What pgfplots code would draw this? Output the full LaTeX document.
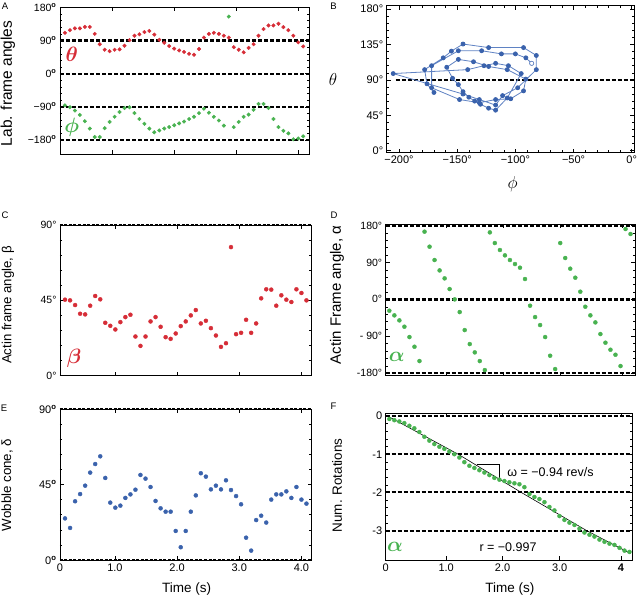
\documentclass[border=0pt]{standalone}
\usepackage{fontspec}
\setmainfont{Liberation Sans}
\usepackage{pgfplots}
\usepackage{pgfplotstable}
\pgfplotsset{compat=1.18}
\definecolor{myred}{RGB}{214,45,55}
\definecolor{mygreen}{RGB}{72,178,80}
\definecolor{myblue}{RGB}{58,98,172}
\definecolor{mybluel}{RGB}{95,130,195}
\newcommand{\dg}{\textsuperscript{\textbf{o}}}
\newcommand{\fs}[1]{\fontsize{#1}{#1}\selectfont}
\pgfplotstableread{
i t theta phiA phiB beta alpha rot delta
1 0.083 111 -86 -86 45.4 -27.6 -0.077 24.8
2 0.167 118 -91 -91 45.0 -39.0 -0.108 19.1
3 0.250 123 -100 -100 42.2 -51.2 -0.142 35.0
4 0.333 123 -112 -112 37.0 -66.6 -0.185 39.3
5 0.417 127 -129 -129 36.6 -91.8 -0.255 44.3
6 0.500 127 -149 -149 41.8 -115.4 -0.321 52.1
7 0.583 108 -172 -172 47.6 -150.3 -0.418 57.2
8 0.667 80 -172 -172 45.6 165.0 -0.542 61.8
9 0.750 65 -148 -148 31.6 128.4 -0.643 48.9
10 0.833 61 -131 -131 29.8 95.9 -0.734 34.2
11 0.917 65 -117 -117 27.6 70.6 -0.804 31.2
12 1.000 66 -104 -104 32.0 51.2 -0.858 32.4
13 1.083 76 -93 -93 35.0 25.2 -0.930 37.0
14 1.167 91 -91 -91 36.4 0.0 -1.000 39.1
15 1.250 103 -107 -107 23.4 -30.9 -1.086 41.9
16 1.333 107 -123 -123 17.8 -74.8 -1.208 50.7
17 1.417 113 -136 -136 23.4 -108.9 -1.302 48.5
18 1.500 116 -149 -149 32.4 -129.2 -1.359 43.5
19 1.583 106 -159 -159 35.0 -150.3 -1.418 35.2
20 1.667 92 -154 -154 29.2 -172.3 -1.479 30.8
21 1.750 84 -149 -149 23.0 163.3 -1.546 28.8
22 1.833 75 -145 -145 22.0 137.3 -1.619 28.8
23 1.917 68 -140 -140 25.2 120.3 -1.666 17.3
24 2.000 63 -135 -135 29.6 107.3 -1.702 7.6
25 2.083 59 -130 -130 32.4 95.9 -1.734 17.3
26 2.167 54 -123 -123 36.0 86.1 -1.761 28.8
27 2.250 51.5 -117 -117 39.2 77.2 -1.786 38.5
28 2.333 67 -107 -107 31.2 49.6 -1.862 51.7
29 2.417 98 -95 -95 32.8 -15.4 -2.043 49.7
30 2.500 108 -106 -106 28.4 -43.1 -2.120 42.1
31 2.583 111 -117 -117 24.0 -62.6 -2.174 44.3
32 2.667 108 -127 -127 17.2 -91.8 -2.255 42.1
33 2.750 103 -141 -141 19.4 -137.3 -2.381 47.5
34 2.833 98 155 -205 76.8 -169.8 -2.472 41.7
35 2.917 72 -145 -145 24.8 137.3 -2.619 38.1
36 3.000 65 -131 -131 25.6 100.8 -2.720 33.2
37 3.083 58 -117 -117 33.4 74.8 -2.792 13.3
38 3.167 70 -111 -111 25.6 52.8 -2.853 5.6
39 3.250 80 -98 -98 31.2 18.7 -2.948 23.8
40 3.333 103 -82 -82 46.2 -17.9 -3.050 26.4
41 3.417 121 -82 -82 51.6 -39.0 -3.108 22.3
42 3.500 131 -93 -93 51.4 -56.1 -3.156 36.0
43 3.583 131 -123 -123 41.8 -84.5 -3.235 39.1
44 3.667 135.5 -145 -145 48.0 -105.6 -3.293 39.1
45 3.750 126.5 -155 -155 45.4 -122.7 -3.341 40.9
46 3.833 118 -162 -162 44.0 -134.9 -3.375 37.0
47 3.917 103 -178 -178 51.6 -162.5 -3.451 43.5
48 4.000 85 -176 -176 49.4 171.5 -3.524 36.0
49 4.083 74 -170 -170 45.0 159.3 -3.558 33.6
}\data
\pgfplotsset{
  panel/.style={scale only axis, anchor=north west, clip=false,
    axis line style={line width=0.8pt},
    tick pos=both, tick align=inside,
    every tick/.style={black, line width=0.5pt},
    major tick length=4pt, minor tick length=2.2pt,
    tick label style={font=\fs{10.5}},
    /pgf/number format/assume math mode=true},
  dline/.style={black, line width=2.3pt, dash pattern=on 4pt off 2pt, forget plot},
}
\begin{document}
\begin{tikzpicture}
\useasboundingbox (0pt,0pt) rectangle (638pt,-599pt);
% panel letters
\node[font=\fs{9.5}] at (5pt,-6.7pt) {A};
\node[font=\fs{9.5}] at (333.5pt,-6.7pt) {B};
\node[font=\fs{9.5}] at (5pt,-215pt) {C};
\node[font=\fs{9.5}] at (334pt,-215pt) {D};
\node[font=\fs{9.5}] at (4pt,-408.3pt) {E};
\node[font=\fs{9.5}] at (333.5pt,-406.7pt) {F};

% ---------- A ----------
\begin{axis}[panel, at={(60pt,-7pt)}, width=249pt, height=147pt,
  xmin=0, xmax=4.18, ymin=-218, ymax=181,
  xtick={0,0.88,1.92,2.96,4.0}, xticklabels={}, minor x tick num=4,
  ytick={-180,-90,0,90,180}, minor y tick num=4,
  yticklabels={−180\dg,−90\dg,0\dg,90\dg,180\dg},
  ylabel={Lab. frame angles},
  ylabel style={at={(axis description cs:-0.209,0.48)}, anchor=center, font=\fs{15.5}}]
\addplot[dline] coordinates {(0,90) (4.18,90)};
\addplot[dline] coordinates {(0,0) (4.18,0)};
\addplot[dline] coordinates {(0,-90) (4.18,-90)};
\addplot[dline] coordinates {(0,-180) (4.18,-180)};
\addplot[only marks, mark=*, mark size=1.8pt, myred] table[x=t,y=theta] {\data};
\addplot[only marks, mark=*, mark size=1.8pt, mygreen] table[x=t,y=phiA] {\data};
\node[myred, font={\fs{20}\boldmath}] at (0.196,51.4) {$\theta$};
\node[mygreen, font={\fs{20}\boldmath}] at (0.196,-145) {$\phi$};
\end{axis}

% ---------- B ----------
\begin{axis}[panel, at={(386.7pt,-5.7pt)}, width=247.6pt, height=147pt,
  xmin=-210.6, xmax=2.2, ymin=-2.5, ymax=184.2,
  xtick={-200,-150,-100,-50,0}, minor x tick num=4,
  xticklabels={−200°,−150°,−100°,−50°,0°},
  ytick={0,45,90,135,180}, minor y tick num=4,
  yticklabels={0°,45°,90°,135°,180°},
  tick label style={font=\fs{11}},
  xlabel={$\phi$}, ylabel={$\theta$},
  xlabel style={at={(axis description cs:0.509,-0.213)}, anchor=center, font=\fs{16}},
  ylabel style={at={(axis description cs:-0.217,0.495)}, anchor=center, rotate=-90, font=\fs{16}}]
\addplot[dline] coordinates {(-203,90) (2.2,90)};
\addplot[mybluel, line width=0.8pt, mark=*, mark size=2pt, mark options={myblue, fill=myblue}] table[x=phiB,y=theta] {\data};
\addplot[only marks, mark=*, mark size=2pt, mark options={draw=mybluel, fill=white}] coordinates {(-86,111)};
\end{axis}

% ---------- C ----------
\begin{axis}[panel, at={(60pt,-225pt)}, width=251.7pt, height=150.7pt,
  xmin=0, xmax=4.17, ymin=0, ymax=90,
  xtick={0,0.91,1.94,2.97,4.0}, xticklabels={}, minor x tick num=4,
  ytick={0,45,90}, minor y tick num=4,
  yticklabels={0°,45°,90°},
  ylabel={Actin frame angle, β},
  ylabel style={at={(axis description cs:-0.207,0.469)}, anchor=center, font=\fs{13.2}}]
\addplot[dline, line width=1.1pt, dash pattern=on 3pt off 1.5pt] coordinates {(0,90) (4.17,90)};
\addplot[dline, line width=1.1pt, dash pattern=on 3pt off 1.5pt] coordinates {(0,0) (4.17,0)};
\addplot[only marks, mark=*, mark size=2pt, myred] table[x=t,y=beta] {\data};
\node[myred, font={\fs{22}\boldmath}] at (0.232,10.4) {$\beta$};
\end{axis}

% ---------- D ----------
\begin{axis}[panel, at={(385.7pt,-224pt)}, width=249.3pt, height=151.7pt,
  xmin=0.023, xmax=4.157, ymin=-186, ymax=183.7,
  xtick={0.023,1.03,1.97,2.92,3.94}, xticklabels={}, minor x tick num=4,
  ytick={-180,-90,0,90,180}, minor y tick num=4,
  yticklabels={-180°,- 90°,0°,90°,180°},
  ylabel={Actin Frame angle, α},
  ylabel style={at={(axis description cs:-0.195,0.532)}, anchor=center, font=\fs{15}}]
\addplot[dline] coordinates {(0.023,180) (4.157,180)};
\addplot[dline] coordinates {(0.023,0) (4.157,0)};
\addplot[dline] coordinates {(0.023,-180) (4.157,-180)};
\addplot[only marks, mark=*, mark size=2pt, mygreen] table[x=t,y=alpha] {\data};
\node[mygreen, font={\fs{22}\boldmath}] at (0.206,-140) {$\alpha$};
\end{axis}

% ---------- E ----------
\begin{axis}[panel, at={(60pt,-409pt)}, width=251.7pt, height=151pt,
  xmin=0, xmax=4.17, ymin=0, ymax=90,
  xtick={0,0.91,1.94,2.97,4.0}, minor x tick num=4,
  xticklabels={0,1.0,2.0,3.0,4.0},
  ytick={0,45,90}, minor y tick num=4,
  yticklabels={0\dg,45\dg,90\dg},
  tick label style={font=\fs{11}},
  xlabel={Time (s)},
  xlabel style={at={(axis description cs:0.503,-0.192)}, anchor=center, font=\fs{13.5}},
  ylabel={Wobble cone, δ},
  ylabel style={at={(axis description cs:-0.21,0.497)}, anchor=center, font=\fs{13.3}}]
\addplot[dline, line width=1.1pt, dash pattern=on 3pt off 1.5pt] coordinates {(0,90) (4.17,90)};
\addplot[dline, line width=1.1pt, dash pattern=on 3pt off 1.5pt] coordinates {(0,0) (4.17,0)};
\addplot[only marks, mark=*, mark size=2pt, myblue] table[x=t,y=delta] {\data};
\end{axis}

% ---------- F ----------
\begin{axis}[panel, at={(385.7pt,-413pt)}, width=246.6pt, height=147pt,
  xmin=0.023, xmax=4.13, ymin=-3.77, ymax=0.08,
  xtick={0.023,1.03,1.97,2.92,3.94}, minor x tick num=4,
  xticklabels={0,1.0,2.0,3.0,\textbf{4}},
  ytick={-3,-2,-1,0}, minor y tick num=4,
  yticklabels={-3,-2,-1,0},
  tick label style={font=\fs{11}},
  xlabel={Time (s)},
  xlabel style={at={(axis description cs:0.504,-0.2)}, anchor=center, font=\fs{13.5}},
  ylabel={Num. Rotations},
  ylabel style={at={(axis description cs:-0.197,0.507)}, anchor=center, font=\fs{13.4}}]
\addplot[dline, line width=2.1pt] coordinates {(0.023,0) (4.13,0)};
\addplot[dline, line width=2.1pt] coordinates {(0.023,-1) (4.13,-1)};
\addplot[dline, line width=2.1pt] coordinates {(0.023,-2) (4.13,-2)};
\addplot[dline, line width=2.1pt] coordinates {(0.023,-3) (4.13,-3)};
\addplot[only marks, mark=*, mark size=2pt, mygreen] table[x=t,y=rot] {\data};
\addplot[black, line width=0.6pt] coordinates {(0.09,-0.03) (1.23,-1.0) (2.28,-2.0) (3.37,-3.0) (4.10,-3.6)};
\addplot[black, line width=0.5pt] coordinates {(1.54,-1.264) (1.92,-1.264) (1.92,-1.63)};
\node[anchor=west, font=\fs{12.5}] at (1.99,-1.46) {ω = −0.94 rev/s};
\node[font=\fs{12.5}] at (2.06,-3.43) {r = −0.997};
\node[mygreen, font={\fs{21}\boldmath}] at (0.18,-3.42) {$\alpha$};
\end{axis}
\end{tikzpicture}
\end{document}
